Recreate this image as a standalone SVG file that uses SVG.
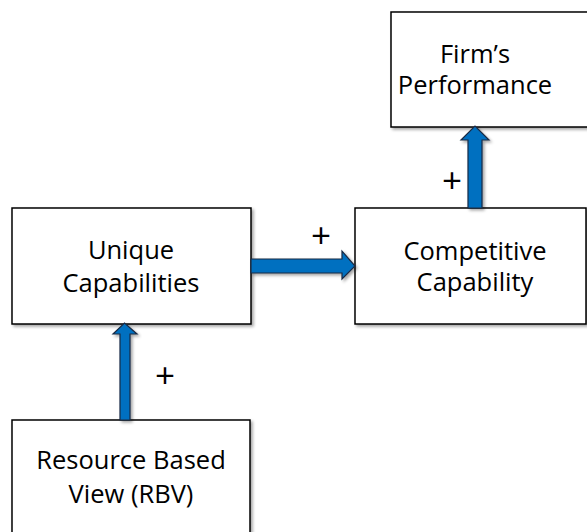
<svg xmlns="http://www.w3.org/2000/svg" width="587" height="532" viewBox="0 0 587 532">
<defs>
<filter id="sh" x="-10%" y="-10%" width="130%" height="130%">
<feDropShadow dx="2" dy="2" stdDeviation="1.5" flood-color="#000" flood-opacity="0.35"/>
</filter>
<style>
.box{fill:#fff;stroke:#000;stroke-width:1.5;filter:url(#sh)}
.t{font-family:"Open Sans","Liberation Sans",sans-serif;font-size:25.5px;fill:#000;text-anchor:middle}
.arr{fill:#0070C0;stroke:#1a2a44;stroke-width:1.2;filter:url(#sh)}
.p{font-family:"Open Sans","Liberation Sans",sans-serif;font-size:35px;fill:#000;text-anchor:middle}
</style>
</defs>
<g id="firm">
<rect class="box" x="391" y="12" width="200" height="115"/>
<text class="t" x="475" y="63">Firm’s</text>
<text class="t" x="475" y="94">Performance</text>
</g>
<g id="unique">
<rect class="box" x="12" y="208" width="239" height="116"/>
<text class="t" x="131" y="259">Unique</text>
<text class="t" x="131" y="292">Capabilities</text>
</g>
<g id="competitive">
<rect class="box" x="355" y="208" width="231" height="116"/>
<text class="t" x="475" y="260">Competitive</text>
<text class="t" x="475" y="291">Capability</text>
</g>
<g id="rbv">
<rect class="box" x="12" y="420" width="238" height="120"/>
<text class="t" x="131" y="469">Resource Based</text>
<text class="t" x="131" y="503">View (RBV)</text>
</g>
<g id="connectors">
<path class="arr" d="M120,420 L120,334 L113,334 L124.5,323 L137,334 L130,334 L130,420 Z"/>
<path class="arr" d="M251,259 L342,259 L342,251 L355,266 L342,279 L342,273 L251,273 Z"/>
<path class="arr" d="M468,208 L468,140 L461,140 L475,126 L489,140 L482,140 L482,208 Z"/>
<text class="p" x="165" y="388">+</text>
<text class="p" x="321" y="248">+</text>
<text class="p" x="452" y="193">+</text>
</g>
</svg>
